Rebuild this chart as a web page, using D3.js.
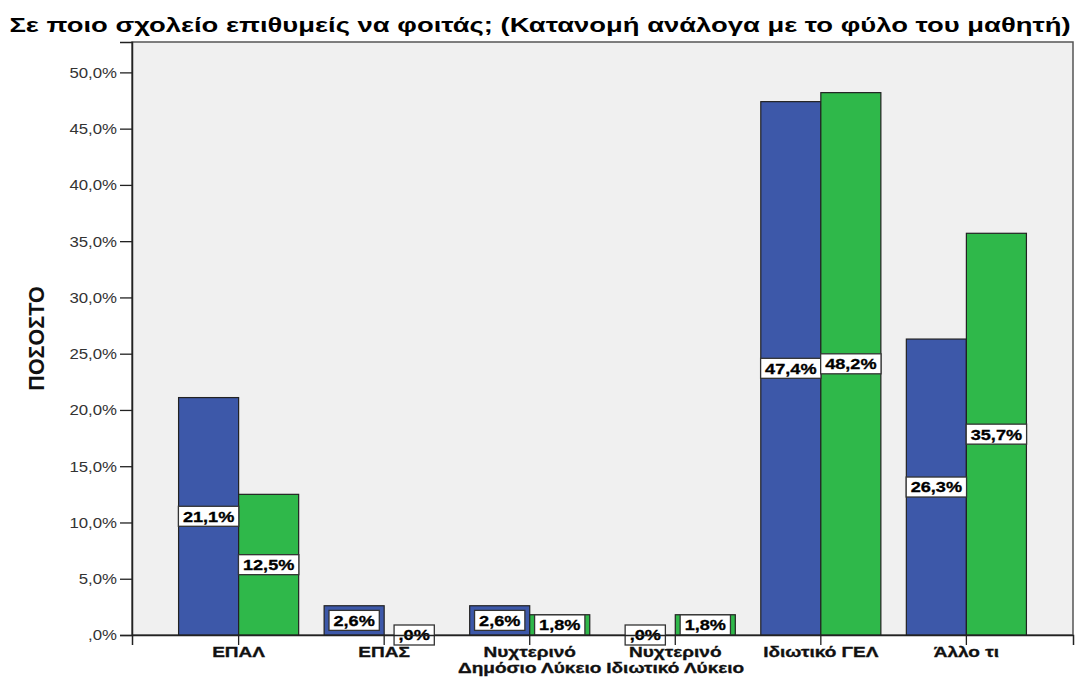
<!DOCTYPE html>
<html>
<head>
<meta charset="utf-8">
<script src="https://cdn.jsdelivr.net/npm/d3@7"></script>
<style>
  body { margin: 0; background: #fff; }
  text { font-family: "Liberation Sans", Arial, sans-serif; }
</style>
</head>
<body>
<svg id="chart" width="1076" height="677"></svg>
<script>
(function() {
  'use strict';

  var title = 'Σε ποιο σχολείο επιθυμείς να φοιτάς; (Κατανομή ανάλογα με το φύλο του μαθητή)';
  var yTitle = 'ΠΟΣΟΣΤΟ';
  var categories = ['ΕΠΑΛ', 'ΕΠΑΣ', 'Νυχτερινό Δημόσιο Λύκειο', 'Νυχτερινό Ιδιωτικό Λύκειο', 'Ιδιωτικό ΓΕΛ', 'Άλλο τι'];
  var categoryLines = [['ΕΠΑΛ'], ['ΕΠΑΣ'], ['Νυχτερινό', 'Δημόσιο Λύκειο'], ['Νυχτερινό', 'Ιδιωτικό Λύκειο'], ['Ιδιωτικό ΓΕΛ'], ['Άλλο τι']];
  var seriesNames = ['Αγόρι', 'Κορίτσι'];
  var boys = [21.1, 2.6, 2.6, 0.0, 47.4, 26.3];
  var girls = [12.5, 0.0, 1.8, 1.8, 48.2, 35.7];
  var yTicks = [0, 5, 10, 15, 20, 25, 30, 35, 40, 45, 50];
  var colors = ['#3d58a9', '#2fb84a'];

  var svg = d3.select('#chart');
  var plot = { left: 132, right: 1073, top: 42, bottom: 635 };

  // SPSS style: ",0%" for zero, comma as decimal mark
  var pct = function(v) {
    var s = v.toFixed(1).replace('.', ',');
    return (s.indexOf('0,') === 0 ? s.slice(1) : s) + '%';
  };

  // the picture is wider than the fonts, stretch text horizontally
  var stretch = function(sel, k) {
    sel.each(function() {
      var t = d3.select(this);
      var x = +t.attr('x') || 0, y = +t.attr('y') || 0;
      t.attr('transform', 'translate(' + x + ',' + y + ') scale(' + k + ',1) translate(' + (-x) + ',' + (-y) + ')');
    });
  };

  var rows = categories.map(function(c, i) {
    return { cat: c, lines: categoryLines[i], values: [boys[i], girls[i]] };
  });

  var x = d3.scaleBand()
    .domain(categories)
    .range([plot.left, plot.right])
    .paddingInner(0.175)
    .paddingOuter(0.32);

  var xSub = d3.scaleBand()
    .domain(seriesNames)
    .range([0, x.bandwidth()]);

  var y = d3.scaleLinear()
    .domain([0, 52.7])
    .range([plot.bottom, plot.top]);

  svg.append('rect')
    .attr('x', plot.left)
    .attr('y', plot.top)
    .attr('width', plot.right - plot.left)
    .attr('height', plot.bottom - plot.top)
    .attr('fill', '#f0f0f0')
    .attr('stroke', '#555')
    .attr('stroke-width', 1.5);

  var groups = svg.append('g').attr('class', 'bars')
    .selectAll('g')
    .data(rows)
    .enter().append('g')
    .attr('transform', function(d) { return 'translate(' + x(d.cat) + ',0)'; });

  groups.selectAll('rect')
    .data(function(d) {
      return d.values.map(function(v, i) { return { key: seriesNames[i], value: v, i: i }; });
    })
    .enter().append('rect')
    .attr('x', function(d) { return xSub(d.key); })
    .attr('y', function(d) { return y(d.value); })
    .attr('width', xSub.bandwidth())
    .attr('height', function(d) { return y(0) - y(d.value); })
    .attr('fill', function(d) { return colors[d.i]; })
    .attr('stroke', '#222')
    .attr('stroke-width', 1.2);

  // axes
  var yAxis = svg.append('g')
    .attr('transform', 'translate(' + plot.left + ',0)')
    .call(d3.axisLeft(y).tickValues(yTicks).tickFormat(pct).tickSize(12).tickPadding(3));
  yAxis.select('.domain').attr('stroke', '#222').attr('stroke-width', 1.5);
  yAxis.selectAll('.tick line').attr('stroke', '#222').attr('stroke-width', 1.3);
  yAxis.selectAll('.tick text')
    .attr('font-size', 14)
    .attr('font-family', '"Liberation Sans", Arial, sans-serif')
    .attr('fill', '#333')
    .attr('dy', '0.35em')
    .call(stretch, 1.2);

  var xAxis = svg.append('g')
    .attr('transform', 'translate(0,' + plot.bottom + ')')
    .call(d3.axisBottom(x).tickSize(10).tickFormat(''));
  xAxis.select('.domain').attr('stroke', '#222').attr('stroke-width', 1.5);
  xAxis.selectAll('.tick line').attr('stroke', '#222').attr('stroke-width', 1.3);

  var catLabels = svg.append('g').attr('class', 'cat-labels')
    .selectAll('text')
    .data(rows)
    .enter().append('text')
    .attr('x', function(d) { return x(d.cat) + x.bandwidth() / 2; })
    .attr('y', plot.bottom + 22)
    .attr('text-anchor', 'middle')
    .attr('font-size', 14)
    .attr('font-weight', 'bold')
    .attr('fill', '#111')
    .attr('stroke', '#111')
    .attr('stroke-width', 0.3);
  catLabels.selectAll('tspan')
    .data(function(d) { return d.lines.map(function(l) { return { line: l, x: x(d.cat) + x.bandwidth() / 2 }; }); })
    .enter().append('tspan')
    .attr('x', function(d) { return d.x; })
    .attr('dy', function(d, i) { return i === 0 ? 0 : 16; })
    .text(function(d) { return d.line; });
  catLabels.call(stretch, 1.36);

  // value labels in boxes at bar mid-height
  var labels = groups.selectAll('g.value-label')
    .data(function(d) {
      return d.values.map(function(v, i) { return { key: seriesNames[i], value: v }; });
    })
    .enter().append('g')
    .attr('class', 'value-label')
    .attr('transform', function(d) {
      return 'translate(' + (xSub(d.key) + xSub.bandwidth() / 2) + ',' + ((y(0) + y(d.value)) / 2) + ')';
    });

  labels.append('rect');
  labels.append('text')
    .attr('text-anchor', 'middle')
    .attr('dy', '0.37em')
    .attr('font-size', 14.5)
    .attr('font-weight', 'bold')
    .attr('fill', '#000')
    .attr('stroke', '#000')
    .attr('stroke-width', 0.3)
    .attr('transform', 'scale(1.25,1)')
    .text(function(d) { return pct(d.value); });
  labels.each(function() {
    var g = d3.select(this);
    var w = g.select('text').node().getComputedTextLength() * 1.25 + 9;
    g.select('rect')
      .attr('x', -w / 2)
      .attr('y', -10)
      .attr('width', w)
      .attr('height', 20)
      .attr('fill', '#fff')
      .attr('stroke', '#333')
      .attr('stroke-width', 1.3);
  });

  svg.append('text')
    .attr('transform', 'translate(44,' + ((plot.top + plot.bottom) / 2) + ') rotate(-90)')
    .attr('text-anchor', 'middle')
    .attr('font-size', 21.5)
    .attr('font-weight', 'bold')
    .attr('fill', '#111')
    .text(yTitle);

  var t = svg.append('text')
    .attr('x', 540)
    .attr('y', 32)
    .attr('text-anchor', 'middle')
    .attr('font-size', 19.5)
    .attr('font-weight', 'bold')
    .attr('fill', '#000')
    .text(title);
  t.call(stretch, 1062 / t.node().getComputedTextLength());
})();
</script>
</body>
</html>
